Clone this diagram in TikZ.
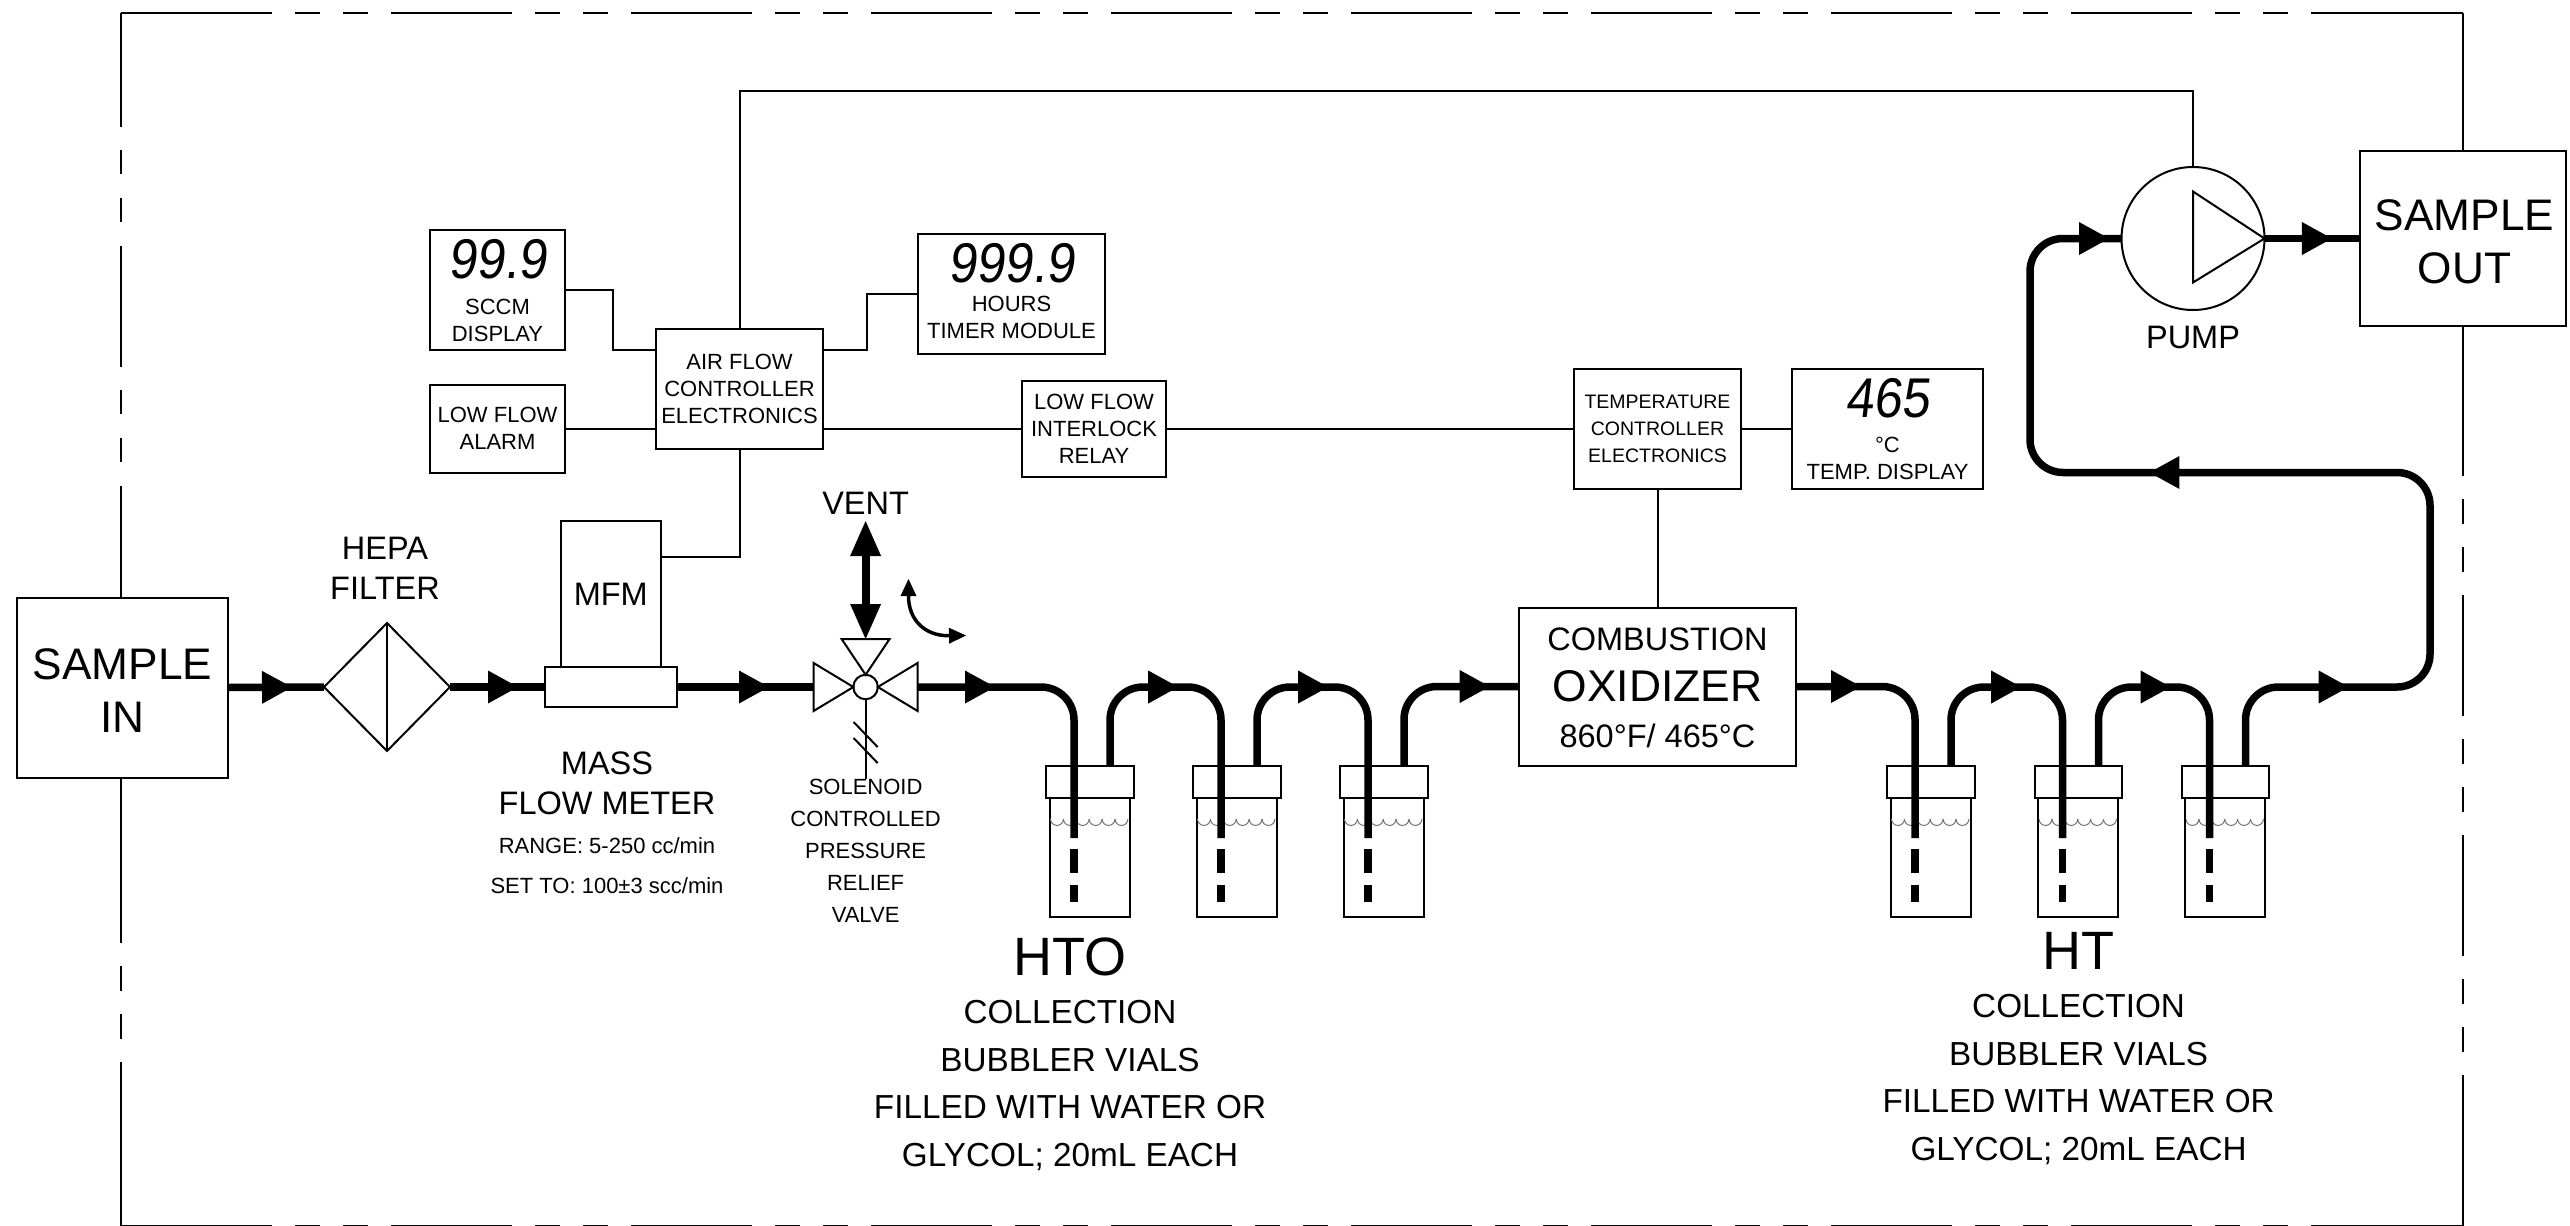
\documentclass[tikz,border=0pt]{standalone}
\usepackage{fontspec}
\setmainfont{Liberation Sans}
\newfontfamily\lcdfont[FakeSlant=0.12,FakeStretch=0.9]{Liberation Sans}
\usetikzlibrary{shapes.geometric, arrows.meta, positioning, decorations.markings}
\tikzset{
    flowhead/.tip={Triangle[length=30pt,width=33pt,line width=0pt]},
    venthead/.tip={Triangle[length=35pt,width=31pt,line width=0pt]},
    swinghead/.tip={Triangle[length=17pt,width=16pt,line width=0pt]},
    wire/.style={line width=2pt},
    phantom/.style={wire, dash pattern=on 121pt off 23pt on 24.5pt off 23.5pt on 24.5pt off 23.5pt},
    tube/.style={line width=7.5pt, rounded corners=33pt},
    flow/.style={postaction={decorate, decoration={markings, mark=at position #1 with {\arrow{flowhead}}}}},
    base/.style={draw, wire, rectangle, align=center, fill=white, inner sep=0pt, outer sep=0pt},
    small/.style={font=\fontsize{22}{27}\selectfont},
    medium/.style={font=\fontsize{32.5}{40}\selectfont},
    large/.style={font=\fontsize{44.2}{52.5}\selectfont},
    ctrl/.style={base, small},
    tag/.style={align=center, inner sep=0pt},
    lcd/.style={tag, font=\lcdfont\fontsize{56}{56}\selectfont},
    vialbody/.style={base, minimum width=80pt, minimum height=119pt},
    vialcap/.style={base, minimum width=87.5pt, minimum height=32.5pt},
    water/.style={line width=1pt, draw=black!55}
}

\begin{document}
\begin{tikzpicture}[x=1pt, y=-1pt]
    \useasboundingbox (0,0) rectangle (2570,1226);

    % Enclosure
    \foreach \y in {13,1226} {
        \draw[wire] (120.5,\y) -- (151,\y);
        \draw[phantom] (151,\y) -- (2311,\y);
        \draw[wire] (2311,\y) -- (2463,\y);
    }
    \draw[phantom, dash phase=7.5pt] (120.5,13) -- (120.5,597);
    \draw[wire] (120.5,777) -- (120.5,822);
    \draw[phantom] (120.5,822) -- (120.5,1062);
    \draw[wire] (120.5,1062) -- (120.5,1226);
    \draw[wire] (2463,13) -- (2463,151);
    \draw[wire] (2463,326) -- (2463,355);
    \draw[phantom] (2463,355) -- (2463,1075);
    \draw[wire] (2463,1075) -- (2463,1226);

    % Process line
    \node (samplein) [base, minimum width=211pt, minimum height=180pt] at (122.5,687.5) {};
    \node (sampleinlabel) [tag, large] at (122.5,690.5) {SAMPLE\\IN};
    \node (filter) [draw, wire, diamond, inner sep=0pt, outer sep=0pt, minimum width=126pt, minimum height=128pt] at (387,687) {};
    \node (filterlabel) [tag, medium] at (385,568.5) {HEPA\\FILTER};
    \node (mfmbase) [base, minimum width=131.5pt, minimum height=40pt] at (610.75,687) {};
    \node (mfm) [base, medium, minimum width=100pt, minimum height=146pt, above=0pt of mfmbase] {MFM};
    \node (meterlabel) [tag, medium] at (607,783) {MASS\\FLOW METER};
    \node (meterspec) [tag, font=\fontsize{22}{40}\selectfont] at (607,866) {RANGE: 5-250 cc/min\\SET TO: 100\textpm3 scc/min};

    % Relief valve
    \node (valve) [draw, wire, circle, inner sep=0pt, outer sep=0pt, minimum size=24.5pt] at (865.6,687) {};
    \coordinate (valvein) at (813.6,687);
    \coordinate (valveout) at (917.6,687);
    \coordinate (valvetop) at (865.6,639);
    \coordinate (ventend) at (865.6,521);
    \draw[wire] (valve.west) -- (valvein |- 0,663) -- (valvein |- 0,711) -- cycle;
    \draw[wire] (valve.east) -- (valveout |- 0,663) -- (valveout |- 0,711) -- cycle;
    \draw[wire] (valve.north) -- (841.6,639) -- (889.6,639) -- cycle;
    \node (ventlabel) [tag, medium] at (865.6,503.5) {VENT};
    \draw[line width=8pt, {venthead}-{venthead}] (ventend) -- (valvetop);
    \coordinate (swingup) at (908.5,579);
    \coordinate (swingout) at (966,635.5);
    \draw[line width=3.5pt, {swinghead}-{swinghead}] (swingup) .. controls (908.5,620) and (925,636) .. (swingout);
    \node (solenoid) [tag, font=\fontsize{22}{32}\selectfont] at (865.6,850.5) {SOLENOID\\CONTROLLED\\PRESSURE\\RELIEF\\VALVE};
    \draw[wire] (valve.south) -- (solenoid.north);
    \draw[wire] (valve.center) ++(-12,35) -- ++(24,25);
    \draw[wire] (valve.center) ++(-12,51) -- ++(24,25);

    % Vials
    \foreach \vial/\capx in {A1/1046, A2/1193, A3/1340, B1/1887, B2/2034.5, B3/2181.5} {
        \node (body\vial) [vialbody] at (\capx+43.75,857.5) {};
        \node (cap\vial) [vialcap, above=0pt of body\vial] {};
        \foreach \s in {0,...,5}
            \draw[water] (\capx+4.5+12.9*\s,819) arc[start angle=180, end angle=0, radius=6.45];
        \coordinate (in\vial) at (\capx+28,838);
        \coordinate (out\vial) at (\capx+64,766);
        \draw[tube, dash pattern=on 24pt off 12pt on 17pt off 90pt] (in\vial) ++(0,11) -- ++(0,64);
    }
    \node (combustion) [base, minimum width=277pt, minimum height=158pt] at (1657.5,686.5) {};
    \node (oxidizer) [tag, font=\fontsize{44.4}{50}\selectfont] at (combustion.center) {OXIDIZER};
    \node (oxidizertop) [tag, medium] at (1657.5,639) {COMBUSTION};
    \node (oxidizertemp) [tag, medium] at (1657.5,736) {860°F/ 465°C};

    \node (htolabel) [tag, font=\fontsize{54}{54}\selectfont] at (1070,957) {HTO};
    \node (htonote) [tag, font=\fontsize{33.3}{47.5}\selectfont] at (1070,1085.5) {COLLECTION\\BUBBLER VIALS\\FILLED WITH WATER OR\\GLYCOL; 20mL EACH};
    \node (htlabel) [tag, font=\fontsize{54}{54}\selectfont] at (2078.6,951) {HT};
    \node (htnote) [tag, font=\fontsize{33.3}{47.5}\selectfont] at (2078.6,1079.5) {COLLECTION\\BUBBLER VIALS\\FILLED WITH WATER OR\\GLYCOL; 20mL EACH};

    % Pump and outlet
    \node (pump) [draw, wire, circle, inner sep=0pt, outer sep=0pt, minimum size=143pt] at (2193,238.5) {};
    \draw[wire] (pump.center) ++(0,-47) -- ++(0,91) -- (pump.east) -- cycle;
    \node (pumplabel) [tag, medium, below=16pt of pump] {PUMP};
    \node (sampleout) [base, minimum width=206.5pt, minimum height=175pt] at (2462.75,238.5) {};
    \node (sampleoutlabel) [tag, large] at (2464.5,242) {SAMPLE\\OUT};
    \coordinate (busend) at (2193,91);
    \coordinate (riserright) at (2430,472.5);
    \coordinate (riserleft) at (2030,238.5);

    % Controls
    \node (sccm) [base, minimum width=135pt, minimum height=120pt] at (497.5,290) {};
    \node (sccmread) [lcd] at (497.5,259.5) {99.9};
    \node (sccmlabel) [tag, small] at (497.5,320) {SCCM\\DISPLAY};
    \node (alarm) [ctrl, minimum width=135pt, minimum height=87.5pt] at (497.5,428.75) {LOW FLOW\\ALARM};
    \node (afc) [ctrl, minimum width=167pt, minimum height=120pt] at (739.5,389) {AIR FLOW\\CONTROLLER\\ELECTRONICS};
    \node (timer) [base, minimum width=187pt, minimum height=120pt] at (1011.5,294) {};
    \node (timerread) [lcd] at (1011.5,263.5) {999.9};
    \node (timerlabel) [tag, small] at (1011.5,317.5) {HOURS\\TIMER MODULE};
    \node (relay) [ctrl, minimum width=144pt, minimum height=96pt] at (1094,429) {LOW FLOW\\INTERLOCK\\RELAY};
    \node (tempctrl) [base, font=\fontsize{19.5}{27}\selectfont, minimum width=167pt, minimum height=120pt] at (1657.5,429) {TEMPERATURE\\CONTROLLER\\ELECTRONICS};
    \node (tempdisp) [base, minimum width=191pt, minimum height=120pt] at (1887.5,429) {};
    \node (tempread) [lcd] at (1887.5,398) {465};
    \node (templabel) [tag, small] at (1887.5,458.5) {°C\\TEMP. DISPLAY};

    \draw[wire] (afc.north) |- (busend) -- (pump.north);
    \draw[wire] (sccm.east) -- ++(47.5,0) |- ([yshift=39pt]afc.west);
    \draw[wire] ([yshift=39pt]afc.east) -- ++(44,0) |- (timer.west);
    \draw[wire] (alarm.east) -- (alarm.east -| afc.west);
    \draw[wire] (relay.west -| afc.east) -- (relay.west);
    \draw[wire] (relay.east) -- (tempctrl.west);
    \draw[wire] (tempctrl.east) -- (tempdisp.west);
    \draw[wire] (tempctrl.south) -- (combustion.north);
    \draw[wire] ([yshift=37pt]mfm.east) -| (afc.south);

    % Flows
    \draw[tube, flow=64pt] (samplein.east) -- (filter.west);
    \draw[wire] (filter.north) -- (filter.south);
    \draw[tube, flow=68pt] (filter.east) -- (mfmbase.west);
    \draw[tube, flow=92.5pt] (mfmbase.east) -- (valvein);
    \draw[tube, flow=77.4pt] (valveout) -| (inA1);
    \draw[tube, flow=133pt] (outA1) -- ++(0,-79) -| (inA2);
    \draw[tube, flow=136pt] (outA2) -- ++(0,-79) -| (inA3);
    \draw[tube, flow=151pt] (outA3) |- (combustion.west);
    \draw[tube, flow=65pt] (combustion.east) -| (inB1);
    \draw[tube, flow=135pt] (outB1) -- ++(0,-79) -| (inB2);
    \draw[tube, flow=137pt] (outB2) -- ++(0,-79) -| (inB3);
    \draw[tube, flow=168pt, flow=-416.6pt, flow=-12.5pt] (outB3) -- ++(0,-79) -| (riserright) -| (riserleft) -- (pump.west);
    \draw[tube, flow=67.4pt] (pump.east) -- (sampleout.west);
\end{tikzpicture}
\end{document}
